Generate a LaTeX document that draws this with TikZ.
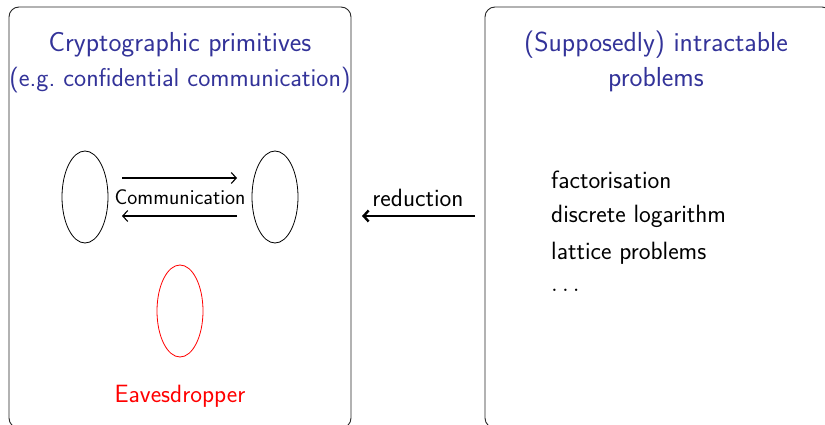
\documentclass[tikz,border=0pt]{standalone}
\usetikzlibrary{arrows.meta,shapes.geometric}
\definecolor{titleblue}{rgb}{0.2,0.2,0.6}
\tikzset{
  panel/.style={draw=black!85, line width=0.9pt, rounded corners=10pt},
  party/.style={draw=black, line width=0.8pt, ellipse, minimum width=46pt, minimum height=92pt, inner sep=0pt},
  eve/.style={party, draw=red},
  ttl/.style={text=titleblue, font=\sffamily\fontsize{27.5}{32}\selectfont, align=center, inner sep=0pt},
  ttlsmall/.style={ttl, font=\sffamily\fontsize{25.8}{30}\selectfont},
  body/.style={font=\sffamily\fontsize{25}{30}\selectfont, inner sep=0pt},
  small/.style={font=\sffamily\fontsize{21.3}{25}\selectfont, inner sep=0pt},
  msg/.style={line width=1.1pt, -{Straight Barb[length=5pt,width=11pt]}},
  red-arrow/.style={line width=2.4pt, -{Straight Barb[length=5pt,width=11pt]}}
}
\begin{document}
\begin{tikzpicture}[x=1pt,y=-1pt]
\useasboundingbox (0,0) rectangle (825,425);
\begin{scope}
\clip (0,0) rectangle (825,425);
\draw[panel] (9,7) rectangle (351,428);
\draw[panel] (485,7) rectangle (832,428);
\end{scope}
\node[ttl] (t1a) at (180,45) {Cryptographic primitives};
\node[ttlsmall] (t1b) at (180,80) {(e.g.\ confidential communication)};
\node[ttl] (t2a) at (656,45) {(Supposedly) intractable};
\node[ttl] (t2b) at (656,80) {problems};
\node[party] (alice) at (85,197) {};
\node[party] (bob) at (275,197) {};
\node[eve] (evenode) at (180,311) {};
\node[small] (comm) at (180,197) {Communication};
\coordinate (a1) at (122,178);
\coordinate (b1) at (237,178);
\coordinate (a2) at (122,216);
\coordinate (b2) at (237,216);
\draw[msg] (a1) -- (b1);
\draw[msg] (b2) -- (a2);
\node[body, text=red] (evelabel) at (180,396) {Eavesdropper};
\coordinate (r1) at (475,216);
\coordinate (r2) at (362,216);
\draw[red-arrow] (r1) -- (r2);
\node[body] (redlabel) at (418,198) {reduction};
\node[body, anchor=west] (p1) at (551,180) {factorisation};
\node[body, anchor=west] (p2) at (551,216) {discrete logarithm};
\node[body, anchor=west] (p3) at (551,253) {lattice problems};
\node[body, anchor=west] (p4) at (551,290) {$\ldots$};
\end{tikzpicture}
\end{document}
